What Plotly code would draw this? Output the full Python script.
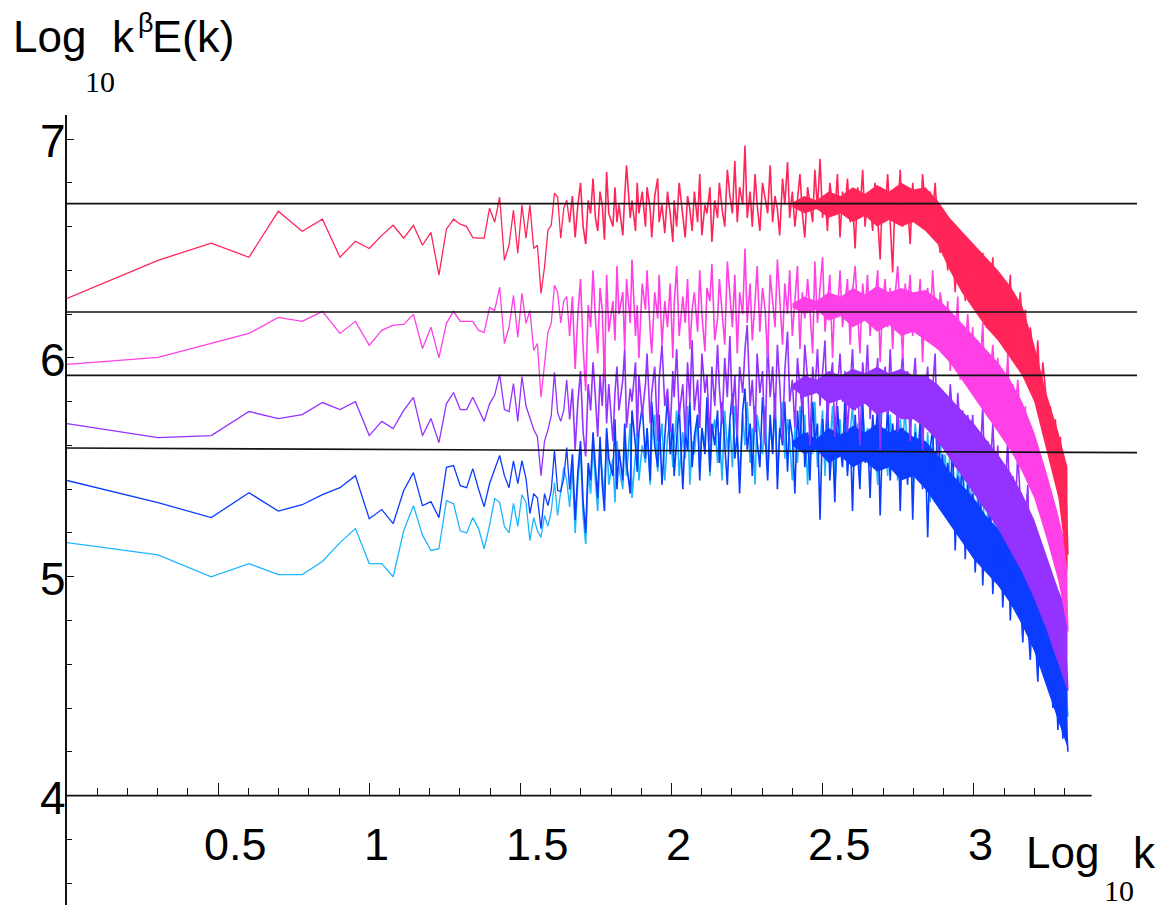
import numpy as np
import plotly.graph_objects as go

# ---------------- data ----------------
k_low = list(range(1, 46))

red_low = [6.272, 6.446, 6.524, 6.46, 6.67, 6.579, 6.634, 6.46, 6.533, 6.50,
           6.56, 6.606, 6.547, 6.606, 6.515, 6.574, 6.378, 6.588, 6.634, 6.611,
           6.60, 6.55, 6.547, 6.547, 6.684, 6.62, 6.735, 6.446, 6.515, 6.675,
           6.478, 6.698, 6.547, 6.698, 6.50, 6.515, 6.295, 6.414, 6.584, 6.606,
           6.753, 6.735, 6.547, 6.684, 6.72]
pink_low = [5.97, 6.002, 6.066, 6.112, 6.185, 6.167, 6.213, 6.112, 6.167, 6.057,
            6.126, 6.15, 6.153, 6.199, 6.043, 6.14, 6.0, 6.158, 6.213, 6.167,
            6.167, 6.167, 6.126, 6.117, 6.23, 6.217, 6.323, 6.066, 6.14, 6.286,
            6.094, 6.295, 6.158, 6.217, 6.034, 6.066, 5.82, 5.975, 6.117, 6.158,
            6.332, 6.30, 6.16, 6.26, 6.28]
purple_low = [5.70, 5.636, 5.645, 5.755, 5.723, 5.741, 5.796, 5.764, 5.80, 5.645,
              5.71, 5.677, 5.76, 5.82, 5.645, 5.723, 5.613, 5.79, 5.842, 5.764,
              5.764, 5.82, 5.764, 5.71, 5.79, 5.83, 5.925, 5.764, 5.755, 5.883,
              5.71, 5.915, 5.78, 5.73, 5.673, 5.64, 5.462, 5.62, 5.67, 5.736,
              5.934, 5.75, 5.71, 5.76, 5.90]
blue_low = [5.44, 5.339, 5.27, 5.384, 5.30, 5.329, 5.375, 5.407, 5.462, 5.265,
            5.307, 5.243, 5.394, 5.476, 5.325, 5.343, 5.27, 5.50, 5.508, 5.416,
            5.407, 5.494, 5.40, 5.32, 5.425, 5.49, 5.554, 5.462, 5.407, 5.53,
            5.425, 5.53, 5.45, 5.288, 5.38, 5.36, 5.22, 5.38, 5.325, 5.394,
            5.577, 5.394, 5.39, 5.45, 5.59]
cyan_low = [5.156, 5.10, 5.0, 5.06, 5.01, 5.01, 5.07, 5.156, 5.22, 5.06,
            5.06, 5.0, 5.21, 5.325, 5.19, 5.12, 5.128, 5.348, 5.334, 5.21,
            5.20, 5.27, 5.22, 5.128, 5.235, 5.357, 5.34, 5.23, 5.2, 5.335,
            5.23, 5.375, 5.34, 5.165, 5.27, 5.21, 5.18, 5.28, 5.23, 5.30,
            5.43, 5.28, 5.39, 5.50, 5.44]

# dense part (k = 46 ... 2048, sampled on a log grid)
red_dense = [
    6.62, 6.74, 6.55, 6.70, 6.80, 6.60, 6.52, 6.72, 6.66, 6.82,
    6.64, 6.58, 6.76, 6.70, 6.54, 6.85, 6.66, 6.60, 6.78, 6.62,
    6.70, 6.56, 6.74, 6.88, 6.64, 6.72, 6.58, 6.80, 6.66, 6.76,
    6.60, 6.78, 6.68, 6.55, 6.74, 6.82, 6.62, 6.70, 6.57, 6.76,
    6.66, 6.53, 6.72, 6.60, 6.80, 6.64, 6.55, 6.74, 6.68, 6.58,
    6.76, 6.62, 6.84, 6.56, 6.70, 6.66, 6.78, 6.53, 6.72, 6.64,
    6.80, 6.68, 6.60, 6.86, 6.74, 6.66, 6.90, 6.62, 6.78, 6.70,
    6.97, 6.64, 6.76, 6.60, 6.84, 6.70, 6.58, 6.80, 6.72, 6.66,
    6.88, 6.62, 6.74, 6.68, 6.56, 6.82, 6.70, 6.895, 6.64, 6.76,
    6.60, 6.72, 6.84, 6.66, 6.55, 6.78, 6.70, 6.62, 6.86, 6.68,
    6.91, 6.64, 6.74, 6.58, 6.80, 6.70, 6.66, 6.84, 6.55, 6.76,
    6.68, 6.82, 6.62, 6.72, 6.50, 6.78, 6.66, 6.86, 6.60, 6.74,
    6.70, 6.58, 6.80, 6.64, 6.45, 6.76, 6.68, 6.84, 6.62, 6.39,
    6.74, 6.66, 6.86, 6.60, 6.78, 6.70, 6.52, 6.80, 6.68, 6.74,
    6.62, 6.84, 6.70, 6.58, 6.76, 6.66, 6.80, 6.60, 6.48, 6.66,
    6.56, 6.40, 6.62, 6.50, 6.30, 6.58, 6.44, 6.52, 6.26, 6.48,
    6.40, 6.52, 6.22, 6.44, 6.34, 6.48, 6.16, 6.38, 6.30, 6.46,
    6.12, 6.36, 6.28, 6.06, 6.32, 6.20, 6.38, 6.02, 6.26, 6.14,
    6.30, 6.10, 6.22, 5.96, 6.14, 6.04, 5.88, 6.08, 5.80, 5.98,
    5.86, 5.70, 5.78, 5.62, 5.72, 5.50, 5.64, 5.40, 5.52, 5.10]
pink_dense = [
    6.10, 6.28, 5.95, 6.20, 6.36, 6.05, 5.85, 6.24, 6.14, 6.40,
    6.18, 6.02, 6.32, 6.22, 5.90, 6.38, 6.12, 6.26, 6.08, 6.42,
    6.20, 6.30, 6.04, 6.36, 6.16, 6.45, 6.10, 6.24, 6.00, 6.34,
    6.22, 6.40, 6.12, 6.02, 6.30, 6.18, 6.38, 6.06, 6.26, 6.14,
    6.34, 6.00, 6.24, 6.42, 6.10, 6.28, 6.16, 6.36, 6.04, 6.22,
    6.30, 6.12, 6.40, 6.20, 6.03, 6.32, 6.26, 6.43, 6.08, 6.18,
    6.36, 6.22, 6.06, 6.44, 6.28, 6.14, 6.38, 6.02, 6.30, 6.20,
    6.50, 6.16, 6.34, 6.08, 6.26, 6.42, 6.12, 6.32, 6.22, 6.00,
    6.38, 6.24, 6.14, 6.45, 6.28, 6.06, 6.34, 6.20, 6.40, 6.10,
    6.26, 6.42, 6.04, 6.30, 6.18, 6.36, 6.22, 6.02, 6.44, 6.16,
    6.32, 6.46, 6.12, 6.26, 6.38, 6.00, 6.28, 6.20, 6.40, 6.14,
    6.24, 6.36, 6.06, 6.30, 6.42, 6.18, 6.02, 6.34, 6.22, 6.38,
    6.10, 6.30, 6.26, 6.40, 5.98, 6.24, 6.36, 6.14, 6.32, 6.04,
    6.28, 6.42, 6.18, 6.00, 6.34, 6.24, 6.38, 6.10, 6.30, 6.20,
    6.36, 5.98, 6.26, 6.32, 6.14, 6.40, 6.20, 6.04, 6.30, 6.22,
    6.10, 6.26, 5.94, 6.18, 6.08, 6.28, 5.90, 6.14, 6.04, 6.20,
    6.00, 6.14, 5.82, 6.08, 5.96, 6.16, 5.78, 6.02, 5.92, 6.06,
    5.84, 6.00, 5.70, 5.94, 5.80, 6.02, 5.64, 5.88, 5.76, 5.90,
    5.72, 5.56, 5.78, 5.48, 5.66, 5.40, 5.60, 5.50, 5.36, 5.52,
    5.44, 5.26, 5.38, 5.14, 5.30, 5.02, 5.20, 4.90, 5.05, 4.75]
purple_dense = [
    5.72, 5.86, 5.58, 5.80, 5.94, 5.66, 5.55, 5.88, 5.76, 5.98,
    5.82, 5.64, 5.92, 5.78, 6.02, 5.70, 5.88, 5.62, 5.84, 5.96,
    5.76, 5.90, 6.04, 5.68, 5.86, 5.80, 5.98, 5.64, 5.92, 5.74,
    5.88, 6.02, 5.70, 5.84, 5.96, 5.62, 5.90, 6.06, 5.78, 5.86,
    5.66, 5.94, 5.82, 6.04, 5.74, 5.88, 5.64, 5.98, 5.80, 6.08,
    5.76, 5.90, 5.68, 6.02, 5.84, 5.92, 5.62, 5.96, 5.78, 6.06,
    5.86, 5.70, 6.00, 5.82, 6.10, 5.74, 5.92, 5.64, 5.96, 5.84,
    6.04, 6.15, 5.78, 5.90, 5.66, 6.02, 5.84, 5.94, 5.60, 6.08,
    5.82, 5.96, 5.72, 6.06, 5.88, 5.62, 5.94, 6.12, 5.80, 5.90,
    5.68, 6.00, 5.86, 5.76, 6.06, 5.90, 5.60, 5.96, 5.84, 6.04,
    5.78, 5.92, 6.08, 5.70, 5.88, 5.98, 5.64, 5.86, 6.02, 5.80,
    5.94, 5.66, 5.88, 6.04, 5.76, 5.90, 5.60, 5.98, 5.84, 6.06,
    5.72, 5.90, 5.82, 6.00, 5.58, 5.86, 5.96, 5.74, 6.04, 5.80,
    5.92, 5.66, 5.88, 6.02, 5.78, 5.94, 5.62, 5.86, 6.00, 5.76,
    5.90, 5.58, 5.84, 5.96, 5.70, 5.88, 6.02, 5.55, 5.86, 5.78,
    5.80, 5.62, 5.88, 5.72, 5.50, 5.84, 5.66, 5.76, 5.45, 5.74,
    5.60, 5.74, 5.40, 5.66, 5.54, 5.78, 5.34, 5.62, 5.48, 5.70,
    5.44, 5.60, 5.22, 5.52, 5.38, 5.64, 5.16, 5.46, 5.30, 5.56,
    5.36, 5.08, 5.28, 5.42, 5.00, 5.22, 4.92, 5.18, 5.04, 4.88,
    5.10, 4.86, 4.98, 4.76, 4.92, 4.64, 4.84, 4.56, 4.70, 4.48]
blue_dense = [
    5.40, 5.56, 5.26, 5.48, 5.62, 5.34, 5.20, 5.52, 5.44, 5.66,
    5.50, 5.36, 5.64, 5.42, 5.30, 5.68, 5.54, 5.46, 5.72, 5.40,
    5.58, 5.44, 5.70, 5.52, 5.38, 5.76, 5.60, 5.48, 5.66, 5.78,
    5.54, 5.68, 5.44, 5.80, 5.60, 5.50, 5.74, 5.42, 5.64, 5.82,
    5.56, 5.70, 5.46, 5.62, 5.78, 5.40, 5.66, 5.58, 5.80, 5.50,
    5.64, 5.74, 5.44, 5.68, 5.56, 5.82, 5.48, 5.70, 5.60, 5.76,
    5.52, 5.80, 5.62, 5.42, 5.72, 5.84, 5.54, 5.66, 5.38, 5.76,
    5.86, 5.58, 5.70, 5.46, 5.78, 5.62, 5.50, 5.82, 5.66, 5.44,
    5.74, 5.56, 5.84, 5.40, 5.68, 5.60, 5.80, 5.48, 5.72, 5.64,
    5.38, 5.76, 5.58, 5.87, 5.50, 5.66, 5.44, 5.80, 5.62, 5.70,
    5.26, 5.72, 5.56, 5.82, 5.44, 5.64, 5.34, 5.78, 5.60, 5.50,
    5.84, 5.46, 5.68, 5.30, 5.74, 5.58, 5.40, 5.80, 5.52, 5.66,
    5.36, 5.74, 5.60, 5.78, 5.28, 5.64, 5.50, 5.80, 5.44, 5.70,
    5.56, 5.76, 5.30, 5.68, 5.62, 5.42, 5.74, 5.26, 5.66, 5.52,
    5.72, 5.40, 5.62, 5.18, 5.58, 5.68, 5.34, 5.74, 5.48, 5.56,
    5.30, 5.52, 5.40, 5.60, 5.12, 5.46, 5.36, 5.54, 5.08, 5.42,
    5.20, 5.38, 5.02, 5.30, 5.44, 4.96, 5.26, 5.14, 5.36, 4.92,
    5.18, 5.04, 5.26, 4.86, 5.12, 5.22, 4.80, 5.08, 4.96, 5.28,
    4.92, 4.70, 5.04, 4.80, 4.62, 4.94, 4.72, 4.52, 4.86, 4.66,
    4.78, 4.50, 4.66, 4.40, 4.60, 4.30, 4.54, 4.26, 4.44, 4.20]
cyan_dense = [
    5.32, 5.50, 5.20, 5.44, 5.58, 5.28, 5.15, 5.48, 5.38, 5.60,
    5.44, 5.30, 5.58, 5.48, 5.36, 5.66, 5.42, 5.54, 5.34, 5.62,
    5.50, 5.40, 5.64, 5.46, 5.70, 5.36, 5.56, 5.66, 5.44, 5.60,
    5.52, 5.68, 5.42, 5.62, 5.74, 5.48, 5.58, 5.70, 5.44, 5.64,
    5.72, 5.50, 5.60, 5.76, 5.46, 5.66, 5.54, 5.78, 5.42, 5.62,
    5.56, 5.74, 5.48, 5.68, 5.60, 5.80, 5.46, 5.64, 5.72, 5.52,
    5.66, 5.44, 5.76, 5.58, 5.70, 5.50, 5.78, 5.62, 5.46, 5.74,
    5.60, 5.80, 5.52, 5.68, 5.42, 5.74, 5.64, 5.56, 5.78, 5.48,
    5.70, 5.58, 5.76, 5.46, 5.66, 5.80, 5.54, 5.72, 5.62, 5.44,
    5.68, 5.52, 5.78, 5.60, 5.74, 5.42, 5.66, 5.56, 5.80, 5.50,
    5.62, 5.76, 5.46, 5.70, 5.58, 5.78, 5.40, 5.64, 5.72, 5.54,
    5.74, 5.48, 5.66, 5.78, 5.52, 5.70, 5.44, 5.76, 5.60, 5.68,
    5.50, 5.72, 5.62, 5.42, 5.76, 5.58, 5.68, 5.46, 5.74, 5.56,
    5.66, 5.44, 5.72, 5.60, 5.78, 5.50, 5.64, 5.40, 5.70, 5.58,
    5.62, 5.72, 5.46, 5.66, 5.34, 5.60, 5.70, 5.50, 5.64, 5.40,
    5.56, 5.36, 5.62, 5.44, 5.24, 5.52, 5.40, 5.58, 5.20, 5.48,
    5.34, 5.46, 5.12, 5.40, 5.28, 5.44, 5.04, 5.32, 5.22, 5.38,
    5.16, 5.30, 4.96, 5.24, 5.10, 5.34, 4.92, 5.20, 5.06, 5.26,
    5.00, 5.12, 4.80, 5.04, 4.90, 4.72, 5.02, 4.84, 4.66, 4.94,
    4.86, 4.64, 4.78, 4.54, 4.70, 4.48, 4.62, 4.42, 4.56, 4.36]

# dense-core envelopes (log10 k positions, upper/lower values)
band_logk = [2.40, 2.44, 2.48, 2.52, 2.56, 2.60, 2.64, 2.68, 2.72, 2.76,
             2.80, 2.84, 2.88, 2.92, 2.96, 3.00, 3.04, 3.08, 3.12, 3.16,
             3.20, 3.24, 3.28, 3.31]
red_up = [6.71, 6.74, 6.72, 6.76, 6.74, 6.78, 6.75, 6.79, 6.76, 6.80,
          6.77, 6.78, 6.72, 6.64, 6.58, 6.52, 6.46, 6.40, 6.33, 6.24,
          6.06, 5.84, 5.66, 5.50]
red_lo = [6.69, 6.66, 6.68, 6.64, 6.66, 6.62, 6.65, 6.60, 6.63, 6.60,
          6.62, 6.58, 6.52, 6.40, 6.30, 6.22, 6.14, 6.08, 6.00, 5.92,
          5.80, 5.58, 5.36, 5.02]
pink_up = [6.25, 6.28, 6.26, 6.30, 6.28, 6.32, 6.29, 6.33, 6.30, 6.32,
           6.30, 6.31, 6.27, 6.22, 6.16, 6.10, 6.04, 5.98, 5.90, 5.80,
           5.66, 5.48, 5.28, 5.10]
pink_lo = [6.23, 6.20, 6.22, 6.17, 6.19, 6.14, 6.17, 6.12, 6.15, 6.10,
           6.12, 6.08, 6.04, 5.98, 5.90, 5.82, 5.74, 5.66, 5.58, 5.48,
           5.36, 5.18, 4.98, 4.76]
purple_up = [5.88, 5.92, 5.90, 5.94, 5.92, 5.95, 5.93, 5.96, 5.93, 5.95,
             5.92, 5.92, 5.88, 5.82, 5.76, 5.70, 5.63, 5.56, 5.48, 5.38,
             5.26, 5.10, 4.94, 4.84]
purple_lo = [5.86, 5.82, 5.84, 5.79, 5.81, 5.76, 5.79, 5.74, 5.76, 5.72,
             5.72, 5.68, 5.62, 5.54, 5.46, 5.38, 5.30, 5.22, 5.12, 5.02,
             4.90, 4.76, 4.60, 4.48]
blue_up = [5.62, 5.66, 5.63, 5.68, 5.65, 5.69, 5.66, 5.70, 5.66, 5.68,
           5.64, 5.62, 5.56, 5.48, 5.42, 5.36, 5.28, 5.22, 5.14, 5.04,
           4.94, 4.80, 4.66, 4.56]
blue_lo = [5.60, 5.56, 5.58, 5.52, 5.55, 5.50, 5.53, 5.48, 5.50, 5.44,
           5.46, 5.40, 5.32, 5.24, 5.16, 5.08, 5.02, 4.96, 4.88, 4.78,
           4.66, 4.50, 4.34, 4.22]

# reference (black) lines: start / end values
ref_lines = [(6.705, 6.705), (6.21, 6.21), (5.92, 5.92), (5.588, 5.567)]

xtick_vals = [0.5, 1, 1.5, 2, 2.5, 3]
xtick_text = ["0.5", "1", "1.5", "2", "2.5", "3"]
ytick_vals = [4, 5, 6, 7]
ytick_text = ["4", "5", "6", "7"]

# ---------------- figure ----------------
colors = {
    "cyan": "#1fb6ff",
    "blue": "#0b3cff",
    "purple": "#9432ff",
    "pink": "#ff40e6",
    "red": "#ff2558",
}

series = [
    ("cyan", cyan_low, cyan_dense, None, None),
    ("blue", blue_low, blue_dense, blue_up, blue_lo),
    ("purple", purple_low, purple_dense, purple_up, purple_lo),
    ("pink", pink_low, pink_dense, pink_up, pink_lo),
    ("red", red_low, red_dense, red_up, red_lo),
]

fig = go.Figure()
for name, low, dense, up, lo in series:
    k_dense = np.round(np.geomspace(46, 2048, len(dense)))
    if up is not None:
        fig.add_trace(go.Scatter(
            x=list(band_logk) + list(band_logk)[::-1],
            y=list(up) + list(lo)[::-1],
            fill="toself", fillcolor=colors[name], mode="lines",
            line=dict(width=0, color=colors[name]), hoverinfo="skip",
            showlegend=False))
    # well-resolved low-k part
    fig.add_trace(go.Scatter(
        x=np.log10(np.array(k_low + [k_dense[0]], dtype=float)),
        y=list(low) + [dense[0]], mode="lines",
        line=dict(color=colors[name], width=1.3), name=name, showlegend=False))
    # dense high-k part
    fig.add_trace(go.Scatter(
        x=np.log10(k_dense), y=list(dense), mode="lines",
        line=dict(color=colors[name], width=1.6), name=name, showlegend=False))

# black horizontal reference lines
for y0, y1 in ref_lines:
    fig.add_shape(type="line", xref="x", yref="y", x0=0, x1=3.54, y0=y0, y1=y1,
                  line=dict(color="#111111", width=1.6), layer="above")

# x-axis line drawn at y = 4
fig.add_shape(type="line", xref="x", yref="y", x0=0, x1=3.39, y0=4, y1=4,
              line=dict(color="#111111", width=1.6), layer="above")

YMIN, YMAX = 3.5, 7.11
minor_x = [round(0.1 * i, 1) for i in range(1, 34) if i % 5 != 0]
minor_y = [round(3.6 + 0.2 * i, 1) for i in range(0, 18)]
minor_y = [v for v in minor_y if abs(v - round(v)) > 1e-6]

SANS = "Liberation Sans, Arial, sans-serif"
SERIF = "Liberation Serif, Times New Roman, serif"

# the page adds an 8px body margin, so the figure is 8px smaller each way
fig.update_layout(
    width=1156, height=901,
    margin=dict(l=59, r=27, t=107, b=4, autoexpand=False),
    paper_bgcolor="white", plot_bgcolor="white",
    showlegend=False,
    font=dict(family=SANS, color="black"),
    xaxis=dict(range=[0, 3.54], anchor="free", position=(4 - YMIN) / (YMAX - YMIN),
               showline=False, showgrid=False, zeroline=False, automargin=False,
               ticks="inside", tickvals=xtick_vals, ticklen=13, tickwidth=1.4,
               tickcolor="#111111", showticklabels=False,
               minor=dict(tickvals=minor_x, ticks="inside", ticklen=8,
                          tickwidth=1.3, tickcolor="#111111", showgrid=False)),
    yaxis=dict(range=[YMIN, YMAX], showline=True, linecolor="#111111", linewidth=1.6,
               showgrid=False, zeroline=False, automargin=False,
               ticks="inside", tickvals=ytick_vals, showticklabels=False,
               ticklen=7, tickwidth=1.4, tickcolor="#111111",
               minor=dict(tickvals=minor_y, ticks="inside", ticklen=5,
                          tickwidth=1.3, tickcolor="#111111", showgrid=False)),
)

# x tick labels (text placed at the tick values)
for v, t in zip(xtick_vals, xtick_text):
    shift = 17 if "." in t else 7
    fig.add_annotation(x=v, y=4, xref="x", yref="y", text=t, showarrow=False,
                       xanchor="center", yanchor="middle", xshift=shift, yshift=-49,
                       font=dict(size=45, family=SANS))

# y tick labels
for v, t in zip(ytick_vals, ytick_text):
    fig.add_annotation(x=0, y=v, xref="x", yref="y", text=t, showarrow=False,
                       xanchor="right", yanchor="middle", xshift=1, yshift=-2,
                       font=dict(size=46, family=SANS))


def px2paper(px, py):
    return (px - 67) / 1070.0, (905 - py) / 790.0


def add_text(text, px, py, size, family, anchor="left"):
    x, y = px2paper(px, py)
    fig.add_annotation(x=x, y=y, xref="paper", yref="paper", text=text,
                       showarrow=False, xanchor=anchor, yanchor="middle",
                       font=dict(size=size, family=family, color="black"))


# y-axis title
add_text("Log", 11, 37, 44, SANS)
add_text("10", 83, 81, 30, SERIF)
add_text("k", 110, 37, 44, SANS)
add_text("β", 136, 23, 27, SANS)
add_text("E(k)", 150, 37, 45, SANS)
# x-axis title
add_text("Log", 1024, 852, 44, SANS)
add_text("10", 1102, 890, 30, SERIF)
add_text("k", 1131, 852, 44, SANS)

fig.write_html("out.html")
